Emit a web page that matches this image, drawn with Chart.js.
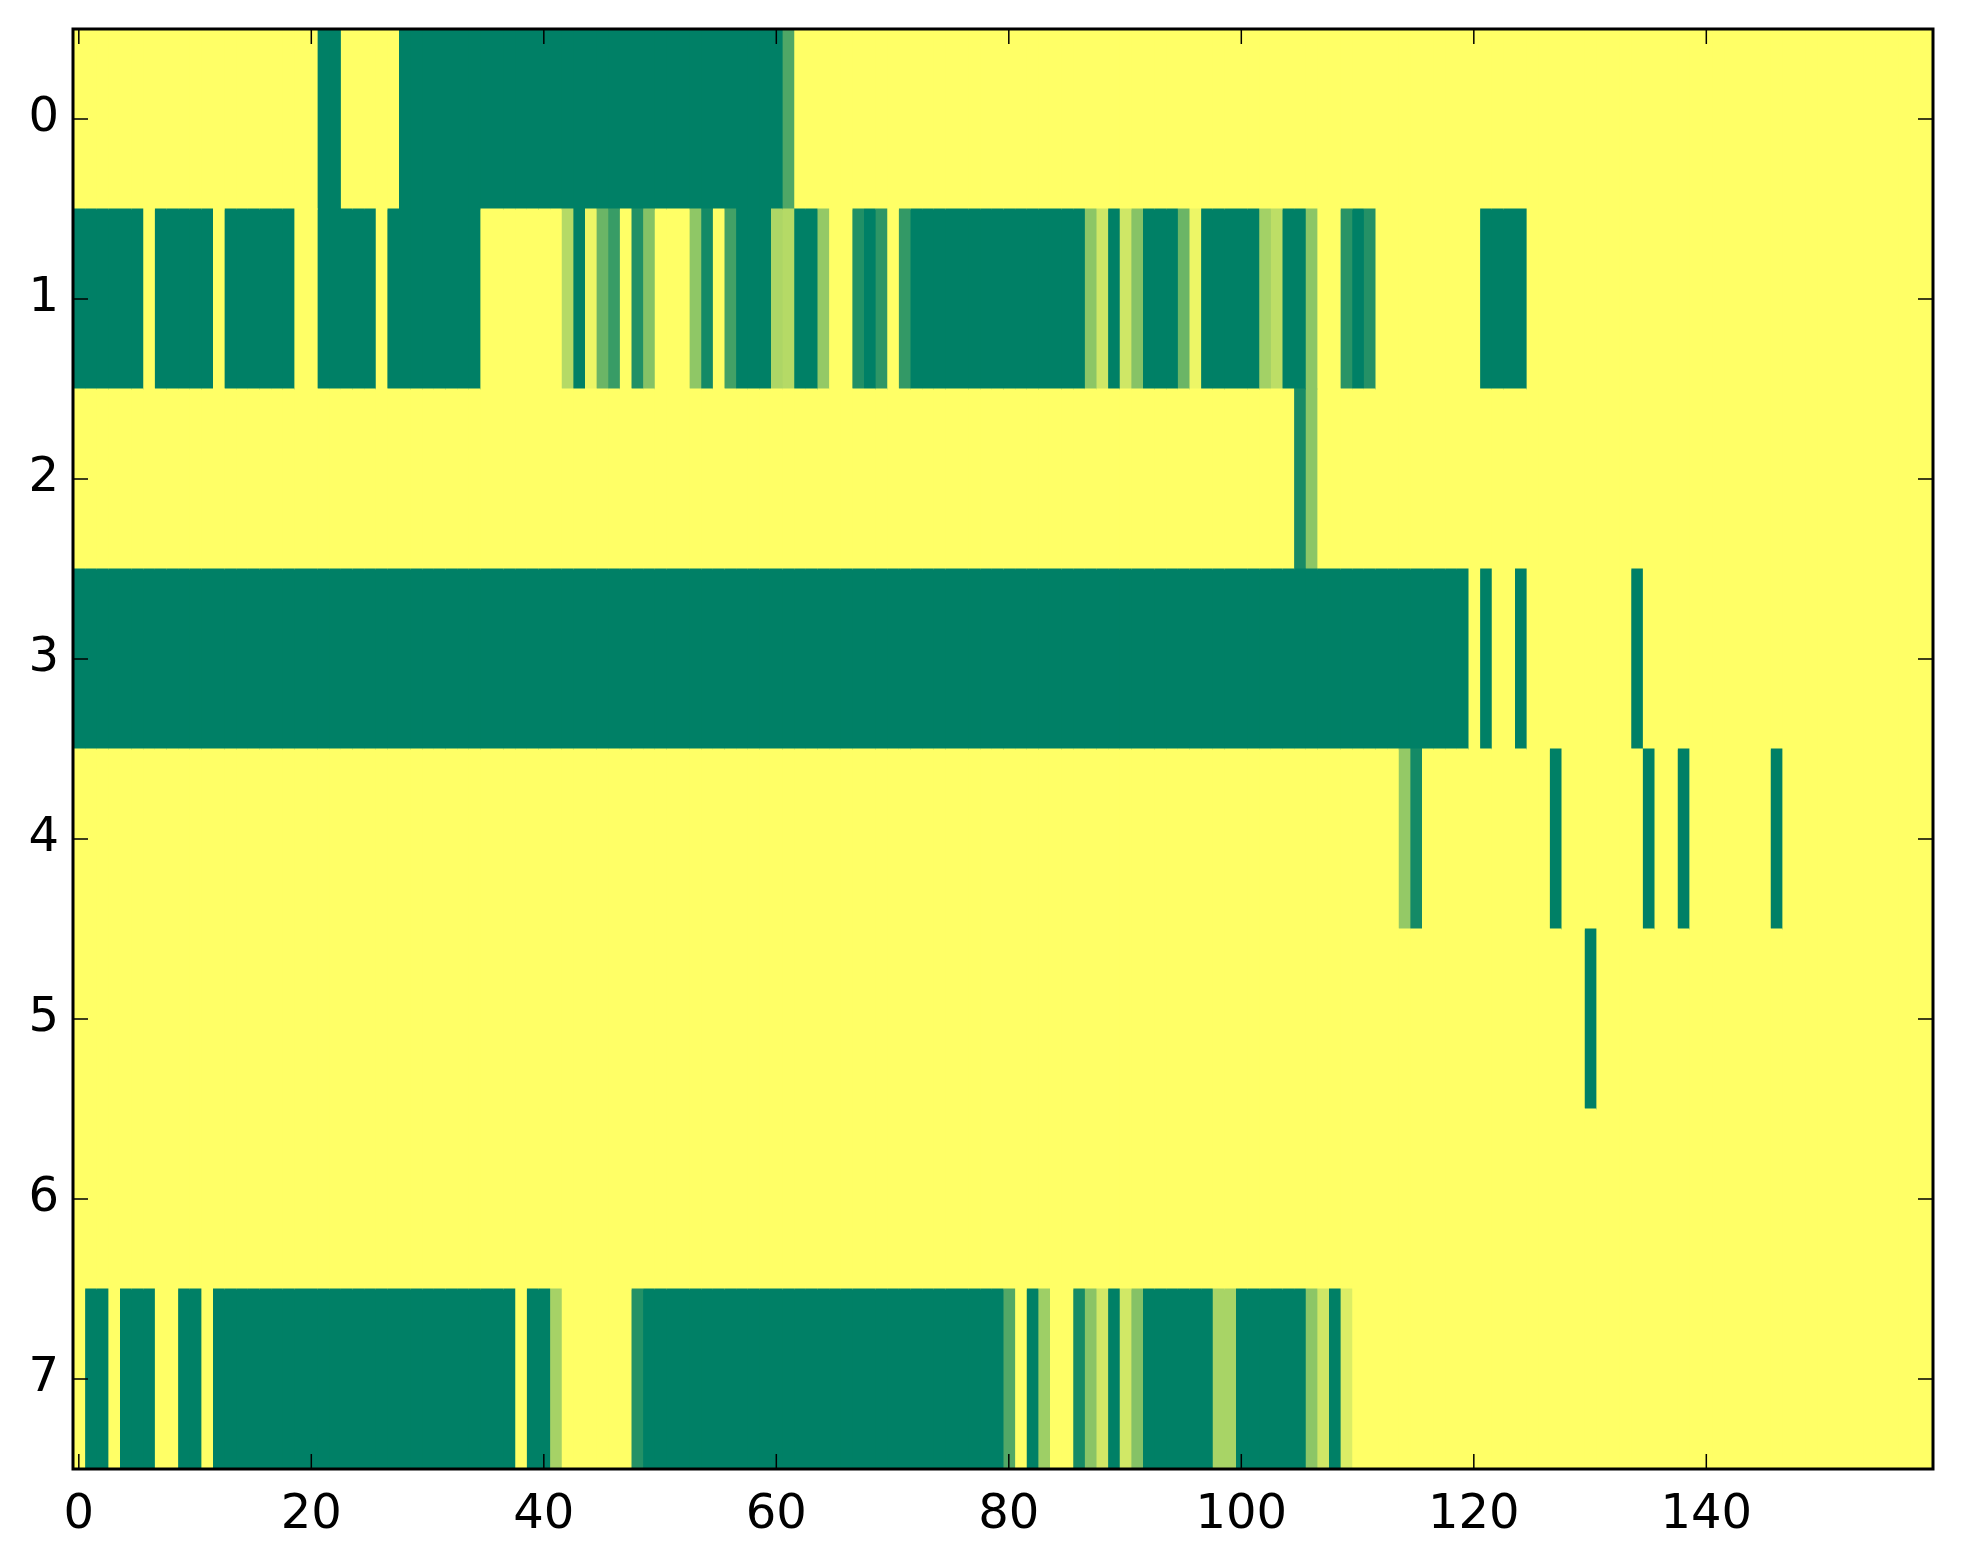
<!DOCTYPE html>
<html><head><meta charset="utf-8">
<script src="https://cdn.jsdelivr.net/npm/chart.js@4.4.0/dist/chart.umd.min.js"></script>
<style>html,body{margin:0;padding:0;background:#fff;}canvas{display:block;}</style>
</head><body>
<canvas id="c" width="1963" height="1564"></canvas>
<script>
// Row labels (y axis categories) and x tick labels
const rowLabels = ['0','1','2','3','4','5','6','7'];
const xTickValues = [0,20,40,60,80,100,120,140];

// Cell values per row, columns 0..159 (0 = green, 1 = yellow)
const row0 = [
1,1,1,1,1,1,1,1,1,1,1,1,1,1,1,1,1,1,1,1,
1,0,0,1,1,1,1,1,0,0,0,0,0,0,0,0,0,0,0,0,
0,0,0,0,0,0,0,0,0,0,0,0,0,0,0,0,0,0,0,0,
0,0.31,1,1,1,1,1,1,1,1,1,1,1,1,1,1,1,1,1,1,
1,1,1,1,1,1,1,1,1,1,1,1,1,1,1,1,1,1,1,1,
1,1,1,1,1,1,1,1,1,1,1,1,1,1,1,1,1,1,1,1,
1,1,1,1,1,1,1,1,1,1,1,1,1,1,1,1,1,1,1,1,
1,1,1,1,1,1,1,1,1,1,1,1,1,1,1,1,1,1,1,1];
const row1 = [
0,0,0,0,0,0,1,0,0,0,0,0,1,0,0,0,0,0,0,1,
1,0,0,0,0,0,1,0,0,0,0,0,0,0,0,1,1,1,1,1,
1,1,0.71,0,0.93,0.42,0.22,1,0.13,0.52,1,1,1,0.56,0.08,1,0.26,0,0,0,
0.68,0.71,0,0,0.58,1,1,0.13,0,0.18,1,0.2,0,0,0,0,0,0,0,0,
0,0,0,0,0,0,0,0.55,0.81,0,0.81,0.53,0,0,0,0.42,0.93,0,0,0,
0,0,0.64,0.74,0,0,0.55,1,1,0.16,0,0.14,1,1,1,1,1,1,1,1,
1,0,0,0,0,1,1,1,1,1,1,1,1,1,1,1,1,1,1,1,
1,1,1,1,1,1,1,1,1,1,1,1,1,1,1,1,1,1,1,1];
const row2 = [
1,1,1,1,1,1,1,1,1,1,1,1,1,1,1,1,1,1,1,1,
1,1,1,1,1,1,1,1,1,1,1,1,1,1,1,1,1,1,1,1,
1,1,1,1,1,1,1,1,1,1,1,1,1,1,1,1,1,1,1,1,
1,1,1,1,1,1,1,1,1,1,1,1,1,1,1,1,1,1,1,1,
1,1,1,1,1,1,1,1,1,1,1,1,1,1,1,1,1,1,1,1,
1,1,1,1,1,0.09,0.55,1,1,1,1,1,1,1,1,1,1,1,1,1,
1,1,1,1,1,1,1,1,1,1,1,1,1,1,1,1,1,1,1,1,
1,1,1,1,1,1,1,1,1,1,1,1,1,1,1,1,1,1,1,1];
const row3 = [
0,0,0,0,0,0,0,0,0,0,0,0,0,0,0,0,0,0,0,0,
0,0,0,0,0,0,0,0,0,0,0,0,0,0,0,0,0,0,0,0,
0,0,0,0,0,0,0,0,0,0,0,0,0,0,0,0,0,0,0,0,
0,0,0,0,0,0,0,0,0,0,0,0,0,0,0,0,0,0,0,0,
0,0,0,0,0,0,0,0,0,0,0,0,0,0,0,0,0,0,0,0,
0,0,0,0,0,0,0,0,0,0,0,0,0,0,0,0,0,0,0,0,
1,0,1,1,0,1,1,1,1,1,1,1,1,1,0,1,1,1,1,1,
1,1,1,1,1,1,1,1,1,1,1,1,1,1,1,1,1,1,1,1];
const row4 = [
1,1,1,1,1,1,1,1,1,1,1,1,1,1,1,1,1,1,1,1,
1,1,1,1,1,1,1,1,1,1,1,1,1,1,1,1,1,1,1,1,
1,1,1,1,1,1,1,1,1,1,1,1,1,1,1,1,1,1,1,1,
1,1,1,1,1,1,1,1,1,1,1,1,1,1,1,1,1,1,1,1,
1,1,1,1,1,1,1,1,1,1,1,1,1,1,1,1,1,1,1,1,
1,1,1,1,1,1,1,1,1,1,1,1,1,1,0.58,0.08,1,1,1,1,
1,1,1,1,1,1,1,0,1,1,1,1,1,1,1,0,1,1,0,1,
1,1,1,1,1,1,0,1,1,1,1,1,1,1,1,1,1,1,1,1];
const row5 = [
1,1,1,1,1,1,1,1,1,1,1,1,1,1,1,1,1,1,1,1,
1,1,1,1,1,1,1,1,1,1,1,1,1,1,1,1,1,1,1,1,
1,1,1,1,1,1,1,1,1,1,1,1,1,1,1,1,1,1,1,1,
1,1,1,1,1,1,1,1,1,1,1,1,1,1,1,1,1,1,1,1,
1,1,1,1,1,1,1,1,1,1,1,1,1,1,1,1,1,1,1,1,
1,1,1,1,1,1,1,1,1,1,1,1,1,1,1,1,1,1,1,1,
1,1,1,1,1,1,1,1,1,1,0,1,1,1,1,1,1,1,1,1,
1,1,1,1,1,1,1,1,1,1,1,1,1,1,1,1,1,1,1,1];
const row6 = [
1,1,1,1,1,1,1,1,1,1,1,1,1,1,1,1,1,1,1,1,
1,1,1,1,1,1,1,1,1,1,1,1,1,1,1,1,1,1,1,1,
1,1,1,1,1,1,1,1,1,1,1,1,1,1,1,1,1,1,1,1,
1,1,1,1,1,1,1,1,1,1,1,1,1,1,1,1,1,1,1,1,
1,1,1,1,1,1,1,1,1,1,1,1,1,1,1,1,1,1,1,1,
1,1,1,1,1,1,1,1,1,1,1,1,1,1,1,1,1,1,1,1,
1,1,1,1,1,1,1,1,1,1,1,1,1,1,1,1,1,1,1,1,
1,1,1,1,1,1,1,1,1,1,1,1,1,1,1,1,1,1,1,1];
const row7 = [
1,0,0,1,0,0,0,1,1,0,0,1,0,0,0,0,0,0,0,0,
0,0,0,0,0,0,0,0,0,0,0,0,0,0,0,0,0,0,1,0,
0,0.65,1,1,1,1,1,1,0.14,0,0,0,0,0,0,0,0,0,0,0,
0,0,0,0,0,0,0,0,0,0,0,0,0,0,0,0,0,0,0,0,
0.32,1,0,0.62,1,1,0.09,0.54,0.82,0,0.82,0.52,0,0,0,0,0,0,0.66,0.66,
0,0,0,0,0,0,0.55,0.81,0,0.86,1,1,1,1,1,1,1,1,1,1,
1,1,1,1,1,1,1,1,1,1,1,1,1,1,1,1,1,1,1,1,
1,1,1,1,1,1,1,1,1,1,1,1,1,1,1,1,1,1,1,1];

const rows = [row0,row1,row2,row3,row4,row5,row6,row7];

// matplotlib "summer" colormap
function summer(v){
  return 'rgb(' + Math.round(255*v) + ',' + Math.round(255*(0.5+0.5*v)) + ',102)';
}

const nCols = row0.length;
const datasets = [];
for (let c = 0; c < nCols; c++) {
  datasets.push({
    data: rows.map(() => [c - 0.5, c + 0.5]),
    backgroundColor: rows.map(r => summer(r[c]))
  });
}

const framePlugin = {
  id: 'frame',
  afterDraw(chart) {
    const {ctx, chartArea: a, scales} = chart;
    ctx.save();
    ctx.strokeStyle = '#000';
    ctx.lineWidth = 1.5;
    const L = 15;
    ctx.beginPath();
    scales.x.ticks.forEach(t => {
      const px = scales.x.getPixelForValue(t.value);
      ctx.moveTo(px, a.bottom); ctx.lineTo(px, a.bottom - L);
      ctx.moveTo(px, a.top); ctx.lineTo(px, a.top + L);
    });
    scales.y.ticks.forEach((t, i) => {
      const py = scales.y.getPixelForTick(i);
      ctx.moveTo(a.left, py); ctx.lineTo(a.left + L, py);
      ctx.moveTo(a.right, py); ctx.lineTo(a.right - L, py);
    });
    ctx.stroke();
    ctx.lineWidth = 3;
    ctx.strokeRect(a.left, a.top, a.right - a.left, a.bottom - a.top);
    ctx.restore();
  }
};

const tickFont = {family: 'DejaVu Sans', size: 48};

new Chart(document.getElementById('c'), {
  type: 'bar',
  data: {labels: rowLabels, datasets: datasets},
  options: {
    indexAxis: 'y',
    responsive: false,
    animation: false,
    devicePixelRatio: 1,
    layout: {padding: {top: 29, right: 30, left: 0, bottom: 0}},
    datasets: {bar: {grouped: false, barPercentage: 1, categoryPercentage: 1, borderWidth: 0, inflateAmount: 0.5}},
    plugins: {legend: {display: false}, tooltip: {enabled: false}},
    scales: {
      x: {
        type: 'linear', min: -0.5, max: 159.5, position: 'bottom',
        grid: {display: false, drawTicks: false}, border: {display: false},
        afterBuildTicks: s => { s.ticks = xTickValues.map(v => ({value: v})); },
        afterFit: s => { s.height = 95; s.paddingLeft = 0; s.paddingRight = 0; },
        ticks: {font: tickFont, color: '#000', padding: 18, maxRotation: 0, autoSkip: false}
      },
      y: {
        type: 'category', offset: true,
        grid: {display: false, drawTicks: false}, border: {display: false},
        afterFit: s => { s.width = 73; s.paddingTop = 0; s.paddingBottom = 0; },
        ticks: {font: tickFont, color: '#000', padding: 14}
      }
    }
  },
  plugins: [framePlugin]
});
</script>
</body></html>
